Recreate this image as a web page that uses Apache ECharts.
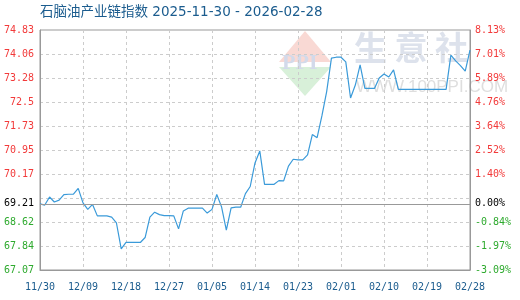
<!DOCTYPE html>
<html>
<head>
<meta charset="utf-8">
<script src="https://cdn.jsdelivr.net/npm/echarts@6/dist/echarts.min.js"></script>
<style>html,body{margin:0;padding:0;background:#fff}#c{width:520px;height:300px}</style>
</head>
<body>
<div id="c"></div>
<script>
var titleText = '石脑油产业链指数 2025-11-30 - 2026-02-28';
var startDate = '2025-11-30';
var dayCount = 91;
var values = [
  69.21, 69.17, 69.43, 69.27, 69.33, 69.51, 69.52, 69.52, 69.71, 69.24,
  69.03, 69.19, 68.82, 68.82, 68.82, 68.78, 68.59, 67.75, 67.96, 67.96,
  67.96, 67.96, 68.12, 68.78, 68.94, 68.86, 68.83, 68.83, 68.82, 68.40,
  68.98, 69.07, 69.07, 69.07, 69.07, 68.91, 69.03, 69.51, 69.11, 68.36,
  69.08, 69.10, 69.10, 69.54, 69.77, 70.53, 70.92, 69.84, 69.84, 69.84,
  69.96, 69.95, 70.43, 70.65, 70.63, 70.63, 70.79, 71.45, 71.35, 72.05,
  72.84, 73.92, 73.95, 73.95, 73.80, 72.63, 73.05, 73.70, 72.94, 72.94,
  72.94, 73.28, 73.41, 73.31, 73.54, 72.91, 72.91, 72.91, 72.91, 72.91,
  72.91, 72.91, 72.91, 72.91, 72.91, 72.91, 74.02, 73.83, 73.68, 73.50,
  74.18
];
var baseValue = 69.21;
var yMin = 67.07;
var yMax = 74.83;
var gridValues = [67.07, 67.846, 68.622, 69.398, 70.174, 70.95, 71.726, 72.502, 73.278, 74.054, 74.83];
var tickValues = [67.07, 67.846, 68.622, 69.21, 70.174, 70.95, 71.726, 72.502, 73.278, 74.054, 74.83];
var leftTickLabels = ['67.07', '67.84', '68.62', '69.21', '70.17', '70.95', '71.73', '72.5', '73.28', '74.06', '74.83'];
var rightTickLabels = ['-3.09%', '-1.97%', '-0.84%', '0.00%', '1.40%', '2.52%', '3.64%', '4.76%', '5.89%', '7.01%', '8.13%'];

var categories = [];
(function () {
  var d = new Date(startDate + 'T00:00:00Z');
  for (var i = 0; i < dayCount; i++) {
    var m = d.getUTCMonth() + 1, dd = d.getUTCDate();
    categories.push((m < 10 ? '0' : '') + m + '/' + (dd < 10 ? '0' : '') + dd);
    d.setUTCDate(d.getUTCDate() + 1);
  }
})();

function idxOf(v) {
  for (var i = 0; i < tickValues.length; i++) if (Math.abs(tickValues[i] - v) < 1e-6) return i;
  return -1;
}
function colorOf(v) {
  if (Math.abs(v - baseValue) < 1e-6) return '#000000';
  return v > baseValue ? '#f23a3a' : '#2eaa2e';
}

var mono = 'DejaVu Sans Mono';
var chart = echarts.init(document.getElementById('c'), null, {renderer: 'canvas'});
chart.setOption({
  animation: false,
  backgroundColor: '#ffffff',
  title: {
    text: titleText, left: 35, top: 1,
    textStyle: {fontSize: 13.5, fontWeight: 'normal', color: '#1b5c8e', fontFamily: '"DejaVu Sans", "Noto Sans CJK SC"'}
  },
  graphic: [
    {type: 'polygon', z: -10, shape: {points: [[305, 31], [331, 62], [279, 62]]}, style: {fill: '#f9d9d4'}},
    {type: 'polygon', z: -10, shape: {points: [[279, 67], [331, 67], [305, 96]]}, style: {fill: '#d8f0d9'}},
    {type: 'text', z: -9, left: 282, top: 52, style: {text: 'PPI', fill: '#d3daea', font: 'bold 22px "Liberation Serif"'}},
    {type: 'text', z: -9, left: 354, top: 31, style: {text: '生 意 社', fill: '#dde2ec', font: 'bold 33px "Noto Sans CJK SC"'}},
    {type: 'text', z: -9, left: 356, top: 79, style: {text: 'WWW.100PPI.COM', fill: '#dedede', font: '17px "Liberation Sans"'}}
  ],
  grid: {left: 40, right: 50, top: 30, bottom: 30, show: true, borderColor: '#999', borderWidth: 1, outerBoundsMode: 'none', containLabel: false},
  xAxis: {
    type: 'category', data: categories, boundaryGap: false,
    axisLine: {show: true, lineStyle: {color: '#999'}},
    axisTick: {show: false, interval: 8},
    axisLabel: {interval: 8, color: '#1b5c8e', fontFamily: mono, fontSize: 10, margin: 12},
    splitLine: {show: true, interval: 8, lineStyle: {color: '#cccccc', type: [3, 3]}}
  },
  yAxis: [
    {
      type: 'value', min: yMin, max: yMax, position: 'left',
      axisLine: {show: true, lineStyle: {color: '#999'}},
      axisTick: {show: false, customValues: gridValues},
      axisLabel: {
        customValues: tickValues, fontFamily: mono, fontSize: 10, margin: 6,
        formatter: function (v) { var i = idxOf(v); return i >= 0 ? leftTickLabels[i] : ''; },
        color: function (v) { return colorOf(Number(v)); }
      },
      splitLine: {show: true, lineStyle: {color: '#cccccc', type: [3, 3]}}
    },
    {
      type: 'value', min: yMin, max: yMax, position: 'right',
      axisLine: {show: true, lineStyle: {color: '#999'}},
      axisTick: {show: false, customValues: gridValues},
      axisLabel: {
        customValues: tickValues, fontFamily: mono, fontSize: 10, margin: 5,
        formatter: function (v) { var i = idxOf(v); return i >= 0 ? rightTickLabels[i] : ''; },
        color: function (v) { return colorOf(Number(v)); }
      },
      splitLine: {show: false}
    }
  ],
  series: [{
    type: 'line', data: values, yAxisIndex: 0, symbol: 'none', smooth: false,
    lineStyle: {color: '#3a9ad9', width: 1.2},
    markLine: {
      silent: true, symbol: 'none', label: {show: false},
      lineStyle: {color: '#999', type: 'solid', width: 1},
      data: [{yAxis: baseValue}]
    }
  }]
});
</script>
</body>
</html>
